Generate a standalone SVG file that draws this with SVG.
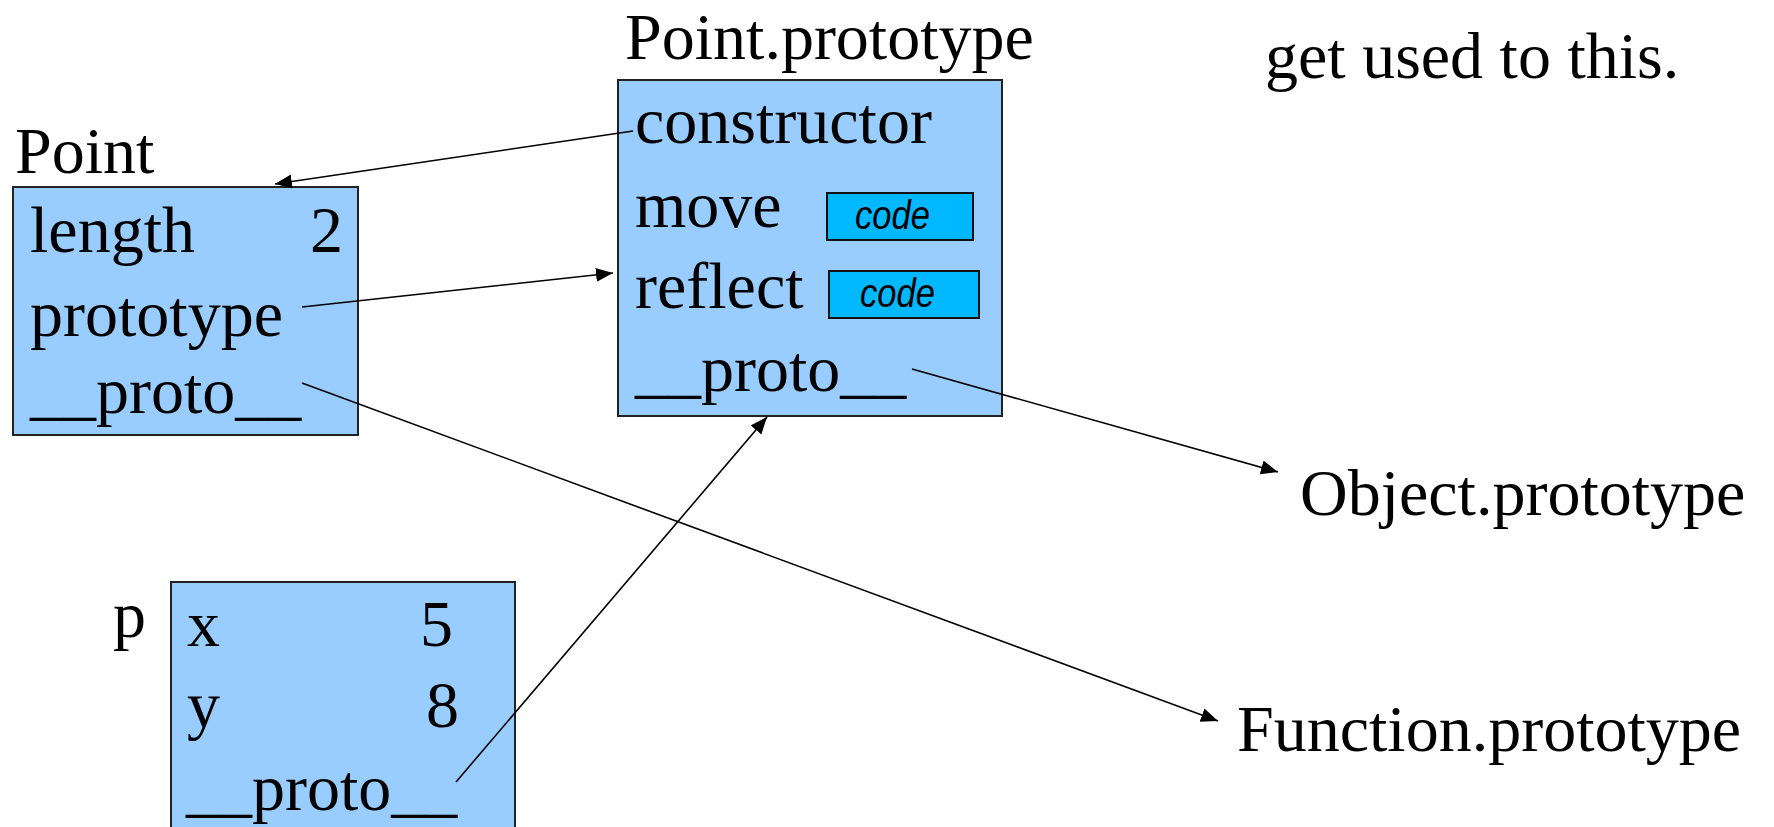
<svg xmlns="http://www.w3.org/2000/svg" width="1774" height="827" viewBox="0 0 1774 827">
  <style>
    .box { fill: #99ccff; stroke: #222; stroke-width: 2; }
    .code { fill: #00b8ff; stroke: #111; stroke-width: 2; }
    .t { font-family: "Liberation Serif", "Times New Roman", serif; font-size: 66px; fill: #000; }
    .c { font-family: "Liberation Sans Narrow", "Liberation Sans", Arial, sans-serif; font-style: italic; font-size: 40px; fill: #000; }
    .conn { stroke: #000; stroke-width: 1.6; fill: none; marker-end: url(#arrow); }
  </style>
  <defs>
    <marker id="arrow" markerUnits="userSpaceOnUse" markerWidth="18" markerHeight="16" refX="17" refY="7" orient="auto">
      <path d="M0,0 L17,7 L0,14 z" fill="#000"/>
    </marker>
  </defs>
  <rect width="1774" height="827" fill="#fff"/>

  <g id="note">
    <text class="t" x="1265" y="78">get used to this.</text>
  </g>

  <g id="point">
    <text class="t" x="15" y="173">Point</text>
    <rect class="box" x="13" y="187" width="345" height="248"/>
    <text class="t" x="30" y="252">length</text>
    <text class="t" x="343" y="252" text-anchor="end">2</text>
    <text class="t" x="30" y="336">prototype</text>
    <text class="t" x="30" y="413">__proto__</text>
  </g>

  <g id="point-prototype">
    <text class="t" x="625" y="59">Point.prototype</text>
    <rect class="box" x="618" y="80" width="384" height="336"/>
    <text class="t" x="635" y="143">constructor</text>
    <text class="t" x="635" y="227">move</text>
    <rect class="code" x="827" y="193" width="146" height="47"/>
    <text class="c" x="855" y="229" textLength="75" lengthAdjust="spacingAndGlyphs">code</text>
    <text class="t" x="635" y="308">reflect</text>
    <rect class="code" x="829" y="271" width="150" height="47"/>
    <text class="c" x="860" y="307" textLength="75" lengthAdjust="spacingAndGlyphs">code</text>
    <text class="t" x="635" y="391">__proto__</text>
  </g>

  <g id="p">
    <text class="t" x="113" y="637">p</text>
    <rect class="box" x="171" y="582" width="344" height="270"/>
    <text class="t" x="187" y="646">x</text>
    <text class="t" x="453" y="646" text-anchor="end">5</text>
    <text class="t" x="187" y="727">y</text>
    <text class="t" x="459" y="727" text-anchor="end">8</text>
    <text class="t" x="186" y="810">__proto__</text>
  </g>

  <g id="object-prototype">
    <text class="t" x="1300" y="515">Object.prototype</text>
  </g>

  <g id="function-prototype">
    <text class="t" x="1237" y="751">Function.prototype</text>
  </g>

  <g id="connectors">
    <line class="conn" x1="633" y1="131" x2="275" y2="184"/>
    <line class="conn" x1="302" y1="307" x2="613" y2="273"/>
    <line class="conn" x1="302" y1="383" x2="1218" y2="721"/>
    <line class="conn" x1="912" y1="369" x2="1278" y2="472"/>
    <line class="conn" x1="456" y1="782" x2="767" y2="417"/>
  </g>
</svg>
